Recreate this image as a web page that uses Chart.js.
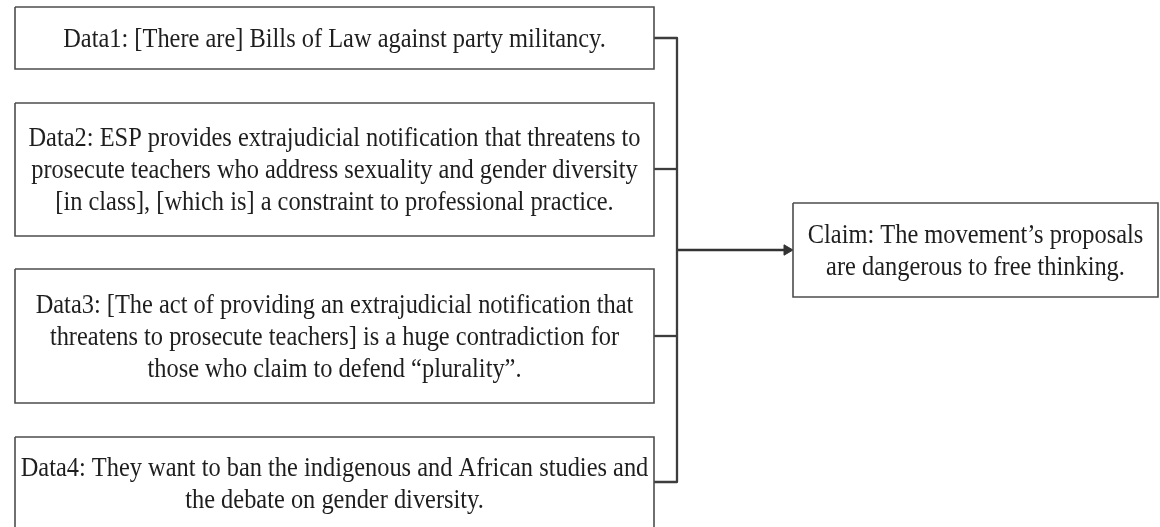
<!DOCTYPE html>
<html>
<head>
<meta charset="utf-8">
<script src="https://cdn.jsdelivr.net/npm/chart.js@4.4.1/dist/chart.umd.min.js"></script>
<style>
html,body{margin:0;padding:0;background:#fff;}
#wrap{position:relative;width:1160px;height:527px;}
</style>
</head>
<body>
<div id="wrap"><canvas id="c"></canvas></div>
<script>
// ---- diagram content ----
const data1Lines = ['Data1: [There are] Bills of Law against party militancy.'];
const data2Lines = [
  'Data2: ESP provides extrajudicial notification that threatens to',
  'prosecute teachers who address sexuality and gender diversity',
  '[in class], [which is] a constraint to professional practice.'
];
const data3Lines = [
  'Data3: [The act of providing an extrajudicial notification that',
  'threatens to prosecute teachers] is a huge contradiction for',
  'those who claim to defend \u201cplurality\u201d.'
];
const data4Lines = [
  'Data4: They want to ban the indigenous and African studies and',
  'the debate on gender diversity.'
];
const claimLines = [
  'Claim: The movement\u2019s proposals',
  'are dangerous to free thinking.'
];

// box extents in diagram units (x: 0..1160, y: 0..527 downward)
const dataBoxLeft = 15;
const dataBoxRight = 654;
const dataBoxTops = [7, 103, 269, 437];
const dataBoxBottoms = [69, 236, 403, 560];
const claimBox = [793, 1158, 203, 297]; // left, right, top, bottom
const bracketX = 677;
const bracketYs = [38, 169, 336, 482];
const arrowY = 250;

const allLines = [data1Lines, data2Lines, data3Lines, data4Lines];

function rectPts(l, r, t, b) {
  return [{x:l,y:t},{x:r,y:t},{x:r,y:b},{x:l,y:b},{x:l,y:t}];
}

const datasets = [];
for (let i = 0; i < dataBoxTops.length; i++) {
  datasets.push({
    data: rectPts(dataBoxLeft, dataBoxRight, dataBoxTops[i], dataBoxBottoms[i]),
    borderColor: '#4d4d4d', borderWidth: 1.6, showLine: true, pointRadius: 0, fill: false,
    textLines: allLines[i]
  });
}
datasets.push({
  data: rectPts(claimBox[0], claimBox[1], claimBox[2], claimBox[3]),
  borderColor: '#4d4d4d', borderWidth: 1.6, showLine: true, pointRadius: 0, fill: false,
  textLines: claimLines
});
// bracket
datasets.push({
  data: [
    {x: dataBoxRight, y: bracketYs[0]}, {x: bracketX, y: bracketYs[0]},
    {x: bracketX, y: bracketYs[3]}, {x: dataBoxRight, y: bracketYs[3]}
  ],
  borderColor: '#3d3d3d', borderWidth: 2.3, showLine: true, pointRadius: 0, borderJoinStyle: 'round'
});
for (const yy of [bracketYs[1], bracketYs[2]]) {
  datasets.push({
    data: [{x: dataBoxRight, y: yy}, {x: bracketX, y: yy}],
    borderColor: '#3d3d3d', borderWidth: 2.3, showLine: true, pointRadius: 0
  });
}
// arrow
datasets.push({
  data: [{x: bracketX, y: arrowY}, {x: claimBox[0] - 6, y: arrowY}],
  borderColor: '#333', backgroundColor: '#333', borderWidth: 2.3, showLine: true,
  pointRadius: [0, 6], pointStyle: 'triangle', rotation: 90, pointBorderWidth: 1
});

const FONT_PX = 28;
const LINE_H = 32;
const REF_LINE = data2Lines[0];
const REF_WIDTH = 612;

const textPlugin = {
  id: 'boxText',
  afterDatasetsDraw(chart) {
    const ctx = chart.ctx;
    const xs = chart.scales.x, ys = chart.scales.y;
    ctx.save();
    ctx.font = FONT_PX + 'px "Liberation Serif", "Times New Roman", serif';
    const sx = REF_WIDTH / ctx.measureText(REF_LINE).width;
    ctx.fillStyle = '#1e1e1e';
    ctx.textAlign = 'center';
    ctx.textBaseline = 'alphabetic';
    chart.data.datasets.forEach(ds => {
      if (!ds.textLines) return;
      const pts = ds.data;
      const l = xs.getPixelForValue(pts[0].x), r = xs.getPixelForValue(pts[1].x);
      const t = ys.getPixelForValue(pts[0].y);
      let b = ys.getPixelForValue(pts[2].y);
      if (ds.textLines === data4Lines) b = t + 92;
      const cx = (l + r) / 2, cy = (t + b) / 2;
      const n = ds.textLines.length;
      const capH = FONT_PX * 0.62;
      const blockH = (n - 1) * LINE_H + capH;
      const firstBase = cy - blockH / 2 + capH;
      ds.textLines.forEach((line, k) => {
        ctx.save();
        ctx.translate(cx, firstBase + k * LINE_H);
        ctx.scale(sx, 1);
        ctx.fillText(line, 0, 0);
        ctx.restore();
      });
    });
    ctx.restore();
  }
};

new Chart(document.getElementById('c'), {
  type: 'scatter',
  data: { datasets },
  options: {
    responsive: true,
    maintainAspectRatio: false,
    animation: false,
    layout: { padding: 0, autoPadding: false },
    plugins: { legend: { display: false }, tooltip: { enabled: false } },
    scales: {
      x: { type: 'linear', min: 0, max: 1160, display: false },
      y: { type: 'linear', min: 0, max: 527, reverse: true, display: false }
    }
  },
  plugins: [textPlugin]
});
</script>
</body>
</html>
